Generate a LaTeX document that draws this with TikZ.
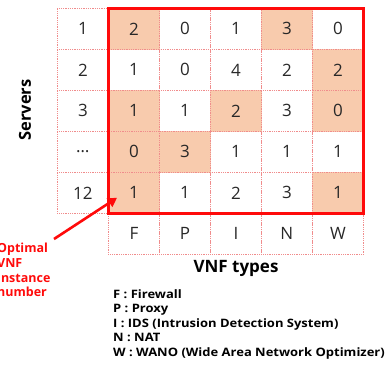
\documentclass[tikz,border=0pt]{standalone}
\usepackage{fontspec}
\setmainfont{Open Sans}
\newfontfamily\widefont[FakeStretch=1.12]{Open Sans}
\usetikzlibrary{arrows.meta,calc}
\definecolor{gridpink}{RGB}{240,140,140}
\definecolor{peach}{RGB}{248,203,173}
\definecolor{txtgray}{RGB}{40,40,40}
\definecolor{framered}{RGB}{255,10,10}
\tikzset{
  cell/.style={draw=gridpink, densely dotted, line width=0.8pt, minimum width=51pt, minimum height=41pt, inner sep=0pt, text=txtgray, font=\fontsize{17}{17}\selectfont, anchor=north west},
  lbl/.style={font=\bfseries\fontsize{16.5}{16.5}\selectfont, text=black}
}
\begin{document}
\begin{tikzpicture}[x=1pt,y=-1pt]
\useasboundingbox (0,0) rectangle (390,365);
% server labels
\foreach \t [count=\j] in {1,2,3,{\ldots},12}{
  \node[cell] (s\j) at (57,{8+41*(\j-1)}) {\t};
}
% matrix values
\foreach \r/\vals in {1/{2,0,1,3,0},2/{1,0,4,2,2},3/{1,1,2,3,0},4/{0,3,1,1,1},5/{1,1,2,3,1}}{
  \foreach \v [count=\c] in \vals {
    \node[cell] (c\r\c) at ({57+51*\c},{8+41*(\r-1)}) {\v};
  }
}
% shaded cells
\foreach \n in {c11,c14,c25,c31,c33,c35,c41,c42,c51,c55}{
  \fill[peach] (\n.north west) rectangle (\n.south east);
  \draw[gridpink, densely dotted, line width=0.8pt] (\n.north west) rectangle (\n.south east);
}
% redraw numbers on shaded cells
\foreach \n/\v in {c11/2,c14/3,c25/2,c31/1,c33/2,c35/0,c41/0,c42/3,c51/1,c55/1}{
  \node[text=txtgray, font=\fontsize{17}{17}\selectfont] at (\n.center) {\v};
}
% type labels
\foreach \t [count=\c] in {F,P,I,N,W}{
  \node[cell] (t\c) at ({57+51*\c},213) {\t};
}
% red frame
\draw[framered, line width=3pt] (c11.north west) rectangle (c55.south east);
% axis labels
\node[lbl, rotate=90] (servers) at (25,110) {Servers};
\node[lbl, font=\bfseries\fontsize{17}{17}\selectfont] (types) at (236,268) {VNF types};
% legend
\node[anchor=north west, align=left, font=\widefont\bfseries\fontsize{11.6}{14.5}\selectfont, inner sep=0pt] (legend) at (113,289)
{F : Firewall\\P : Proxy\\I : IDS (Intrusion Detection System)\\N : NAT\\W : WANO (Wide Area Network Optimizer)};
% annotation
\node[anchor=north west, align=left, text=framered, font=\bfseries\fontsize{12.5}{14.7}\selectfont, inner sep=0pt] (optimal) at (-3,243)
{Optimal\\VNF\\instance\\number};
\coordinate (arrstart) at (54,239);
\draw[framered, line width=2.6pt, -{Triangle[length=9pt,width=10pt]}] (arrstart) -- ($(c51.south west)+(9,-16)$);
\end{tikzpicture}
\end{document}
